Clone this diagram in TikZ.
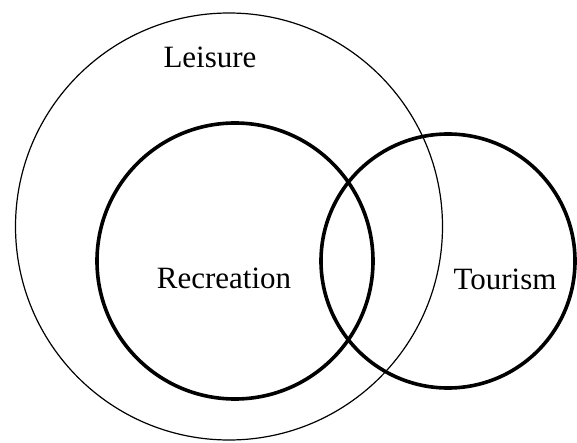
\documentclass[tikz,border=0pt]{standalone}
\usepackage{fontspec}
\setmainfont{Liberation Serif}
\begin{document}
\begin{tikzpicture}[x=1pt,y=-1pt,
  thinring/.style={draw=black,line width=1.2pt},
  thickring/.style={draw=black,line width=3.6pt},
  lbl/.style={anchor=base,inner sep=0pt,font=\fontsize{31}{36}\selectfont}]
\useasboundingbox (0,0) rectangle (577,443);
\draw[thinring] (229,226.5) circle [radius=213.5];
\draw[thickring] (235,261) circle [radius=138];
\draw[thickring] (448,261) circle [radius=127];
\node[lbl] (leisure) at (210,68) {Leisure};
\node[lbl] (recreation) at (224,288) {Recreation};
\node[lbl] (tourism) at (505,289) {Tourism};
\end{tikzpicture}
\end{document}
